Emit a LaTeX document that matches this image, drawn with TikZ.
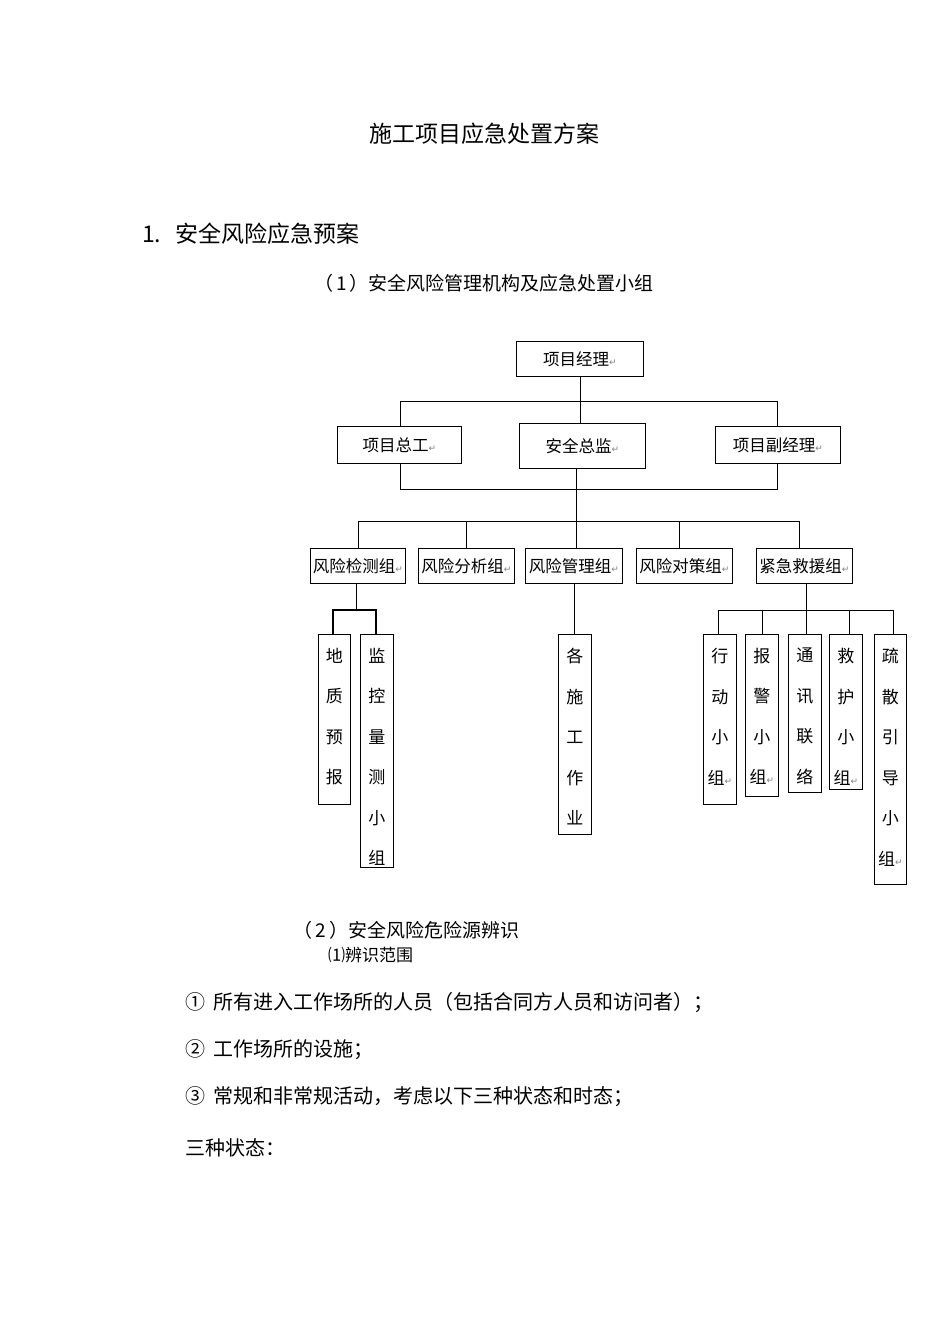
\documentclass[tikz,border=0pt]{standalone}
\usepackage{fontspec}
\setmainfont{Liberation Serif}
\newfontfamily\cjk{Noto Sans CJK SC}
\newfontfamily\dv{DejaVu Sans}
\newcommand{\rt}{{\dv\color{gray}\fontsize{9}{9}\selectfont ↵}}
\begin{document}
\begin{tikzpicture}[x=1pt,y=-1pt,
  hb/.style={draw,thick,inner sep=0pt,anchor=north west,font=\cjk\fontsize{16.5}{16.5}\selectfont},
  vb/.style={draw,thick,inner sep=0pt,anchor=north west},
  vt/.style={anchor=north,inner sep=0pt,align=center,yshift=-14pt,font=\cjk\fontsize{17}{40.5}\selectfont},
  ln/.style={thick},
  tx/.style={font=\cjk\fontsize{20}{20}\selectfont,anchor=west,inner sep=0pt}]
\useasboundingbox (0,0) rectangle (950,1344);
\node[font=\cjk\fontsize{23}{23}\selectfont] (t) at (484,134) {施工项目应急处置方案};
\node[tx,font=\cjk\fontsize{23}{23}\selectfont] (s1) at (142,234) {1.\hspace{14pt}安全风险应急预案};
\node[font=\cjk\fontsize{19}{19}\selectfont] (s2) at (484,283) {（\,1\,）安全风险管理机构及应急处置小组};
% top
\node[hb,minimum width=127pt,minimum height=35pt] (pm) at (516,341) {项目经理\rt};
\node[hb,minimum width=124pt,minimum height=37pt] (ce) at (337,426) {项目总工\rt};
\node[hb,minimum width=126pt,minimum height=45pt] (sd) at (519,423) {安全总监\rt};
\node[hb,minimum width=125pt,minimum height=37pt] (dm) at (715,426) {项目副经理\rt};
\draw[ln] (pm.south -| 580,0) -- (sd.north -| 580,0);
\draw[ln] (400,426) -- (400,401) -- (777,401) -- (777,426);
\draw[ln] (ce.south -| 400,0) -- (400,489) -- (777,489) -- (dm.south -| 777,0);
% groups
\foreach \n/\x/\w/\t in {g1/310/95/风险检测组,g2/418/96/风险分析组,g3/525/97/风险管理组,g4/636/96/风险对策组,g5/756/96/紧急救援组}
  \node[hb,minimum width=\w pt,minimum height=35pt] (\n) at (\x,548) {\t\rt};
\draw[ln] (sd.south -| 576,0) -- (576,548);
\draw[ln] (358,548) -- (358,521) -- (799,521) -- (799,548);
\draw[ln] (466,521) -- (466,548);
\draw[ln] (679,521) -- (679,548);
% sub boxes
\foreach \n/\x/\w/\h/\t in {b1/318/32/170/{地\\质\\预\\报},b2/360/33/233/{监\\控\\量\\测\\小\\组},b3/558/33/200/{各\\施\\工\\作\\业},e1/703/33/170/{行\\动\\小\\组\rt},e2/745/33/162/{报\\警\\小\\组\rt},e3/788/33/158/{通\\讯\\联\\络},e4/829/33/155/{救\\护\\小\\组\rt},e5/874/32/250/{疏\\散\\引\\导\\小\\组\rt}}{
  \node[vb,minimum width=\w pt,minimum height=\h pt] (\n) at (\x,634) {};
  \node[vt] (\n t) at (\n.north) {\t};
}
\draw[ln] (g1.south -| 356,0) -- (356,610);
\draw[line width=1.4pt] (333,634) -- (333,610) -- (376,610) -- (376,634);
\draw[ln] (g3.south -| 574,0) -- (b3.north -| 574,0);
\draw[ln] (g5.south -| 806,0) -- (806,634);
\draw[ln] (718,634) -- (718,610) -- (893,610) -- (893,634);
\draw[ln] (762,610) -- (762,634);
\draw[ln] (849,610) -- (849,634);
% text below
\node[tx,font=\cjk\fontsize{19}{19}\selectfont] (p2) at (293,930) {（\,2\,）安全风险危险源辨识};
\node[tx,font=\cjk\fontsize{17}{17}\selectfont] (p3) at (328,955) {⑴辨识范围};
\node[tx] (i1) at (185,1003) {①\hspace{8pt}所有进入工作场所的人员（包括合同方人员和访问者）；};
\node[tx] (i2) at (185,1050) {②\hspace{8pt}工作场所的设施；};
\node[tx] (i3) at (185,1097) {③\hspace{8pt}常规和非常规活动，考虑以下三种状态和时态；};
\node[tx] (i4) at (185,1148) {三种状态：};
\end{tikzpicture}
\end{document}
